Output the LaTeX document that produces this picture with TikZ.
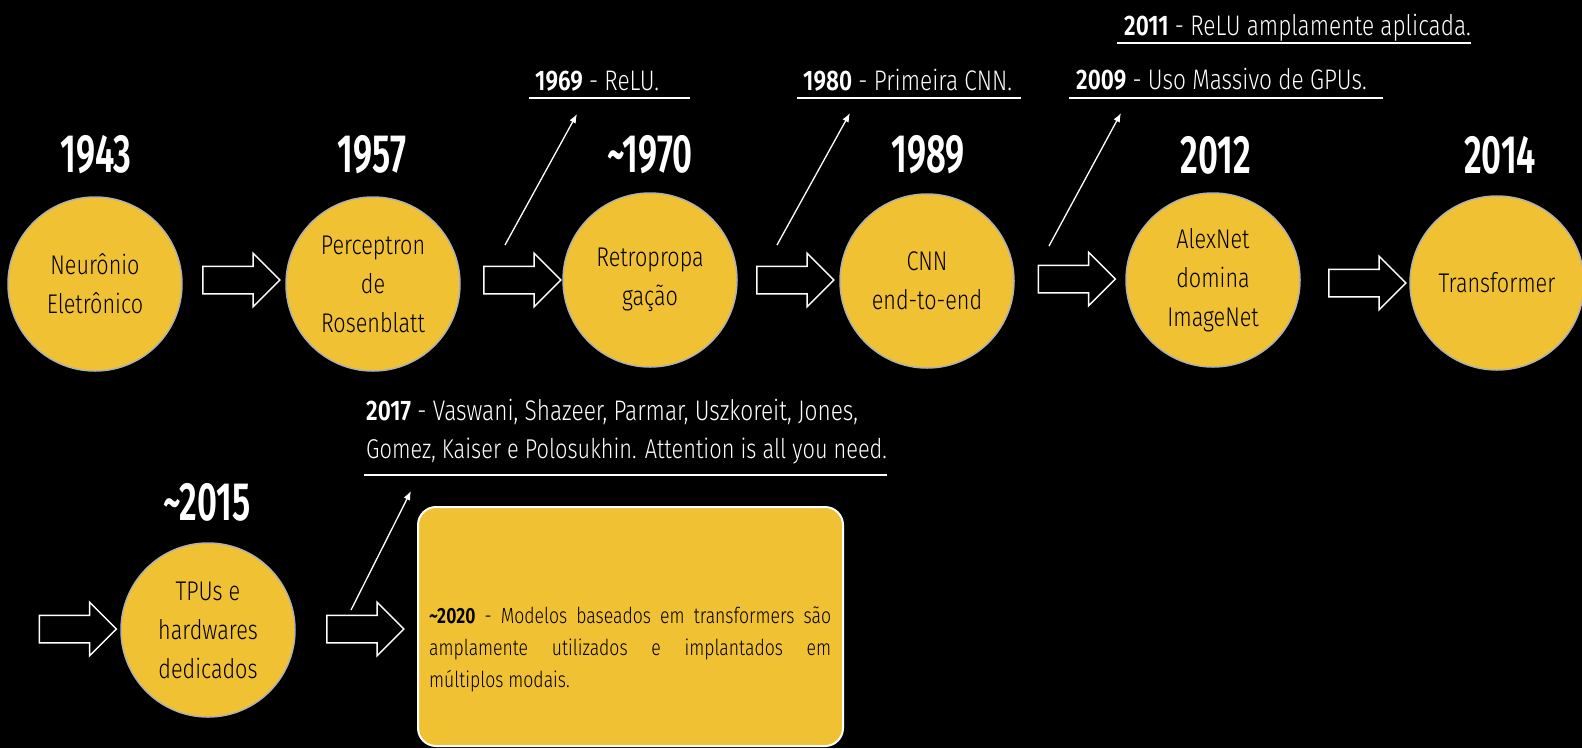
\documentclass[tikz,border=0pt]{standalone}
\usepackage{fontspec}
\setmainfont{Fira Sans}[UprightFont={* Light}, BoldFont={* SemiBold}, FakeStretch=0.8]
\newfontfamily\yearfont{Fira Sans}[BoldFont={* SemiBold}, FakeStretch=0.64]
\usetikzlibrary{shapes.arrows,arrows.meta}
\definecolor{gold}{RGB}{240,193,51}
\definecolor{rim}{RGB}{176,176,176}
\begin{document}
\begin{tikzpicture}[x=1pt,y=-1pt,
  event/.style={circle, fill=gold, draw=rim, line width=1.5pt, minimum size=174pt, inner sep=0pt, align=center, font=\fontsize{27}{39}\selectfont, text=black},
  year/.style={font=\yearfont\bfseries\fontsize{54}{58}\selectfont, text=white, inner sep=0pt},
  blockarrow/.style={single arrow, draw=white, fill=black, line width=1.5pt, minimum height=77pt, inner xsep=0pt, inner ysep=13pt, single arrow head extend=13pt, single arrow tip angle=90},
  note/.style={font=\fontsize{28.3}{38}\selectfont, text=white, inner sep=0pt, anchor=base west},
  uline/.style={draw=white, line width=2pt},
  pointer/.style={draw=white, line width=1.3pt, -{Latex[length=9pt,width=7pt]}},
  eventbox/.style={rectangle, rounded corners=18pt, fill=gold, draw=white, line width=2pt, minimum width=425pt, minimum height=239pt, inner sep=0pt},
  boxtext/.style={font=\fontsize{22}{32}\selectfont, text=black, inner sep=0pt, anchor=base west},
]
\useasboundingbox (0,0) rectangle (1582,748);
\fill[black] (0,0) rectangle (1582,748);

% circles
\node[event] (c1) at (95,284) {Neurônio\\Eletrônico};
\node[event] (c2) at (373,284) {Perceptron\\de\\Rosenblatt};
\node[event] (c3) at (650,280) {Retropropa\\gação};
\node[event] (c4) at (927,281) {CNN\\end-to-end};
\node[event] (c5) at (1213,280) {AlexNet\\domina\\ImageNet};
\node[event] (c6) at (1497,283) {Transformer};
\node[event] (c7) at (208,630) {TPUs e\\hardwares\\dedicados};

% years
\node[year] (y1) at (96,155) {1943};
\node[year] (y2) at (372,155) {1957};
\node[year] (y3) at (650,155) {\textasciitilde1970};
\node[year] (y4) at (928,155) {1989};
\node[year] (y5) at (1216,155) {2012};
\node[year] (y6) at (1500,155) {2014};
\node[year] (y7) at (207,502) {\textasciitilde2015};

% block arrows
\node[blockarrow] (a1) at (234.5,280) {};
\node[blockarrow] (a2) at (515.5,280) {};
\node[blockarrow] (a3) at (788.5,280) {};
\node[blockarrow] (a4) at (1070,279) {};
\node[blockarrow] (a5) at (1360.5,283) {};
\node[blockarrow] (a6) at (71,629) {};
\node[blockarrow] (a7) at (358.5,629) {};

% notes
\node[note] (n1969) at (535,90) {\textbf{1969} - ReLU.};
\node[note] (n1980) at (803,90) {\textbf{1980} - Primeira CNN.};
\node[note] (n2011) at (1124,35) {\textbf{2011} - ReLU amplamente aplicada.};
\node[note] (n2009) at (1076,89) {\textbf{2009} - Uso Massivo de GPUs.};
\node[note] (n2017a) at (366,420) {\textbf{2017} - Vaswani, Shazeer, Parmar, Uszkoreit, Jones,};
\node[note, font=\fontsize{27.2}{38}\selectfont] (n2017b) at (366,458) {Gomez, Kaiser e Polosukhin. Attention is all you need.};

\draw[uline] (529,98) -- (690,98);
\draw[uline] (797,98) -- (1021,98);
\draw[uline] (1117,43) -- (1471,43);
\draw[uline] (1069,98) -- (1383,98);
\draw[uline] (364,475) -- (887,475);

% pointers
\coordinate (pA) at (505,245); \coordinate (pAe) at (577,114);
\coordinate (pB) at (777,245); \coordinate (pBe) at (850,113);
\coordinate (pC) at (1049,246); \coordinate (pCe) at (1121,113);
\coordinate (pD) at (351,610); \coordinate (pDe) at (411,491);
\draw[pointer] (pA) -- (pAe);
\draw[pointer] (pB) -- (pBe);
\draw[pointer] (pC) -- (pCe);
\draw[pointer] (pD) -- (pDe);

% box
\node[eventbox] (box) at (630.5,626.5) {};
\node[boxtext] (bt1) at (429,623) {\makebox[402pt][s]{\textbf{\textasciitilde2020} - Modelos baseados em transformers são}};
\node[boxtext] (bt2) at (429,655) {\makebox[402pt][s]{amplamente utilizados e implantados em}};
\node[boxtext] (bt3) at (429,687) {múltiplos modais.};
\end{tikzpicture}
\end{document}
